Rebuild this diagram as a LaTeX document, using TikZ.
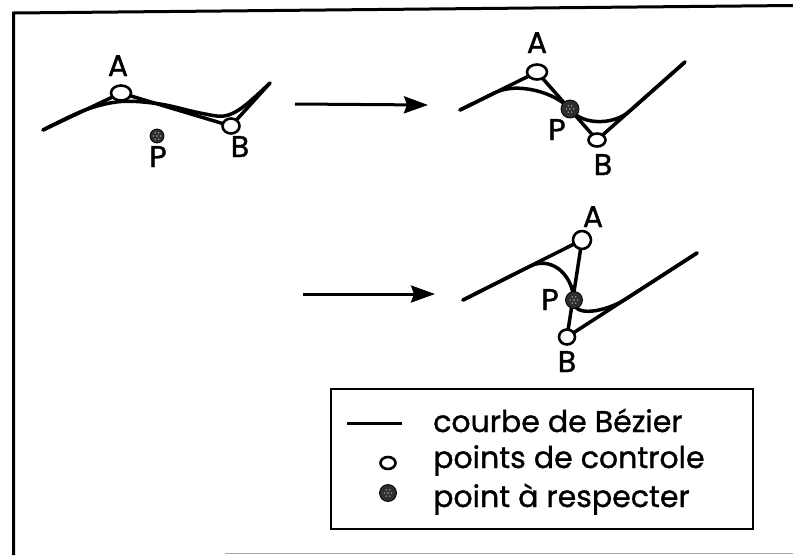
\documentclass[tikz,border=0pt]{standalone}
\usepackage{fontspec}
\setmainfont{Poppins}[FakeBold=1.1]
\usetikzlibrary{arrows.meta,shapes.geometric}
\begin{document}
\begin{tikzpicture}[x=1pt,y=-1pt,
  ctrl/.style={ellipse, draw, line width=2.6pt, fill=white, minimum width=19pt, minimum height=15pt, inner sep=0pt},
  ptr/.style={circle, draw, fill=black!82, line width=0.8pt, minimum size=17pt, inner sep=0pt,
    path picture={
      \foreach \a in {0,60,...,300}{\fill[black!30] ([shift={(\a:3.6pt)}]path picture bounding box.center) circle (0.8pt);}
      \fill[black!30] (path picture bounding box.center) circle (0.8pt);}},
  lbl/.style={font=\fontsize{30}{33}\selectfont, inner sep=0pt, anchor=base},
  leg/.style={font=\fontsize{30}{33}\selectfont, inner sep=0pt, anchor=base west},
  bez/.style={line width=3.5pt, line join=round, line cap=round},
  arr/.style={line width=3pt, -{Stealth[length=24pt,width=17pt,inset=3pt]}},
  frame/.style={line width=3pt}
]
\useasboundingbox (0,0) rectangle (793,555);
% outer frame
\coordinate (fTL) at (13.5,13);
\coordinate (fTR) at (793,5.5);
\coordinate (fBL) at (13.5,555);
\draw[frame] (fTR) -- (fTL) -- (fBL);
\coordinate (fb1) at (225,553.5);
\coordinate (fb2) at (793,553.5);
\draw[line width=1.2pt, black!35] (fb1) -- (fb2);

% ---------- panel 1 ----------
\coordinate (s1) at (43,130);
\coordinate (e1) at (270,83);
\coordinate (cA1) at (121,93);
\coordinate (cB1) at (231,126);
\draw[bez] (s1) -- (cA1) -- (cB1) -- (e1);
\draw[bez] plot[smooth, tension=0.55] coordinates {(43,130) (85,110) (121,101.5) (160,104) (200,113) (224,116) (243,107) (270,83)};
\node[ctrl, minimum width=20pt, minimum height=15pt] (A1) at (cA1) {};
\node[ctrl, minimum width=17pt, minimum height=15pt] (B1) at (cB1) {};
\node[ptr, minimum size=14pt] (P1) at (157,136) {};
\node[lbl] (lA1) at (118,76) {A};
\node[lbl] (lB1) at (240,157) {B};
\node[lbl] (lP1) at (158,167) {P};

% arrow 1
\coordinate (a1s) at (295,104);
\coordinate (a1e) at (428,105);
\draw[arr] (a1s) -- (a1e);

% ---------- panel 2 ----------
\coordinate (s2) at (460,110);
\coordinate (e2) at (685,62);
\coordinate (cA2) at (537,72);
\coordinate (cB2) at (597,140);
\coordinate (cP2) at (570,109);
\coordinate (m21) at (495,92.7);
\coordinate (m22) at (630,110.75);
\draw[bez] (s2) -- (cA2) -- (cB2) -- (e2);
\draw[bez] (s2) -- (m21) .. controls (517.4,81.6) and (555.5,92.5) .. (cP2)
                 .. controls (582,126) and (615,125) .. (m22) -- (e2);
\node[ctrl, minimum width=20pt, minimum height=15pt] (A2) at (cA2) {};
\node[ctrl, minimum width=17pt, minimum height=13pt] (B2) at (cB2) {};
\node[ptr, minimum size=18pt] (P2) at (cP2) {};
\node[lbl] (lA2) at (537,53) {A};
\node[lbl] (lB2) at (603,175) {B};
\node[lbl] (lP2) at (557,140) {P};

% arrow 2
\coordinate (a2s) at (303,294);
\coordinate (a2e) at (435,294);
\draw[arr] (a2s) -- (a2e);

% ---------- panel 3 ----------
\coordinate (s3) at (463,300);
\coordinate (e3) at (697,253);
\coordinate (cA3) at (582,240);
\coordinate (cB3) at (567,337);
\coordinate (cP3) at (574,300);
\coordinate (m31) at (530,266.2);
\coordinate (m32) at (625,299.5);
\draw[bez] (s3) -- (cA3) -- (cB3) -- (e3);
\draw[bez] (s3) -- (m31) .. controls (549.6,256.3) and (572,272) .. (cP3)
                .. controls (572,318) and (605,312) .. (m32) -- (e3);
\node[ctrl, minimum width=18pt, minimum height=18pt] (A3) at (cA3) {};
\node[ctrl, minimum width=16pt, minimum height=15pt] (B3) at (cB3) {};
\node[ptr, minimum size=17pt] (P3) at (cP3) {};
\node[lbl] (lA3) at (593,227) {A};
\node[lbl] (lB3) at (567,372) {B};
\node[lbl] (lP3) at (550,310) {P};

% ---------- legend ----------
\node[draw, line width=2.2pt, minimum width=422pt, minimum height=140pt, inner sep=0pt, anchor=north west] (legbox) at (330,388) {};
\coordinate (lg1) at (347,423);
\coordinate (lg2) at (402,423);
\draw[line width=3pt] (lg1) -- (lg2);
\node[ctrl, minimum width=15pt, minimum height=12pt] (legA) at (388,463) {};
\node[ptr, minimum size=17pt] (legP) at (388,493) {};
\node[leg] (t1) at (433,432) {courbe de Bézier};
\node[leg] (t2) at (433,468) {points de controle};
\node[leg] (t3) at (433,507) {point à respecter};
\end{tikzpicture}
\end{document}
